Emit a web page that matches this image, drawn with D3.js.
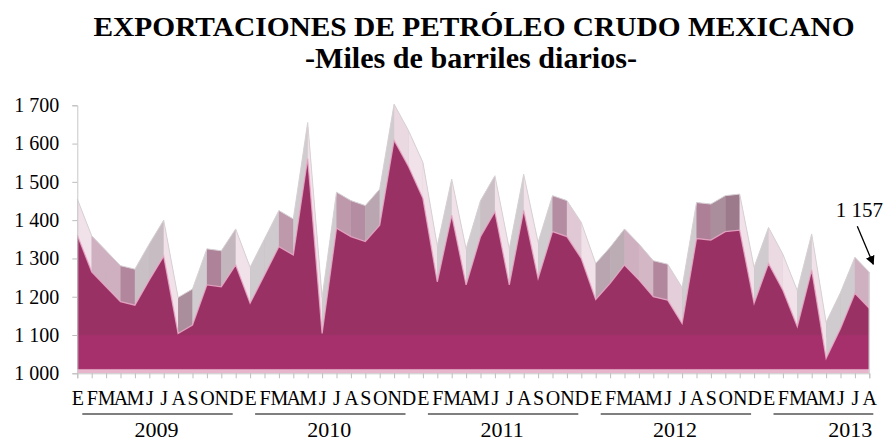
<!DOCTYPE html>
<html>
<head>
<meta charset="utf-8">
<script src="https://cdn.jsdelivr.net/npm/d3@7"></script>
<style>
  body { margin: 0; background: #fff; }
  text { font-family: "Liberation Serif", "Times New Roman", serif; fill: #000; }
</style>
</head>
<body>
<div id="chart"></div>
<script>
'use strict';

// months of each year (E = enero)
const monthLabels = ['E', 'F', 'M', 'A', 'M', 'J', 'J', 'A', 'S', 'O', 'N', 'D'];
const years       = ['2009', '2010', '2011', '2012', '2013'];
const monthsInYear = [12, 12, 12, 12, 8];

// miles de barriles diarios, ene 2009 - ago 2013
const exports2009 = [1361, 1265, 1226, 1187, 1178, 1244, 1306, 1104, 1126, 1231, 1226, 1283];
const exports2010 = [1183, 1257, 1331, 1309, 1561, 1104, 1379, 1357, 1344, 1387, 1609, 1540];
const exports2011 = [1457, 1239, 1413, 1231, 1357, 1422, 1231, 1426, 1248, 1370, 1357, 1300];
const exports2012 = [1193, 1235, 1283, 1244, 1200, 1191, 1130, 1352, 1348, 1370, 1374, 1183];
const exports2013 = [1287, 1217, 1122, 1270, 1039, 1117, 1209, 1170];

const yTicks = [1000, 1100, 1200, 1300, 1400, 1500, 1600, 1700];
const lastLabel = 1157;

const values = [].concat(exports2009, exports2010, exports2011, exports2012, exports2013);

const W = 888, H = 443;
const depth = 36;     // px, 3d back offset
const serif = '"Liberation Serif", "Times New Roman", Tinos, serif';

const svg = d3.select('#chart').append('svg')
    .attr('width', W)
    .attr('height', H);

const xScale = d3.scaleLinear().domain([0, values.length - 1]).range([77.3, 869.3]);
const yScale = d3.scaleLinear().domain([1000, 1700]).range([373.3, 105.3]);

const loc = d3.formatLocale({ decimal: '.', thousands: ' ', grouping: [3], currency: ['', ''] });
const fmt = loc.format(',');

// title
svg.append('text')
    .attr('x', 474).attr('y', 36)
    .attr('text-anchor', 'middle')
    .attr('textLength', 761).attr('lengthAdjust', 'spacingAndGlyphs')
    .style('font-family', serif)
    .style('font-size', '28px').style('font-weight', 'bold')
    .text('EXPORTACIONES DE PETRÓLEO CRUDO MEXICANO');

svg.append('text')
    .attr('x', 471).attr('y', 68)
    .attr('text-anchor', 'middle')
    .attr('textLength', 332).attr('lengthAdjust', 'spacingAndGlyphs')
    .style('font-family', serif)
    .style('font-size', '29px').style('font-weight', 'bold')
    .text('-Miles de barriles diarios-');

// gradient for front face
let defs = svg.append('defs');
let grad = defs.append('linearGradient')
    .attr('id', 'front')
    .attr('gradientUnits', 'userSpaceOnUse')
    .attr('x1', 0).attr('x2', 0)
    .attr('y1', yScale(1700)).attr('y2', yScale(1000));
[[0, '#9a3164'], [0.855, '#9a3164'], [0.86, '#a6306c'], [0.982, '#a6306c'], [0.987, '#e8b6cc'], [1, '#e8b6cc']]
    .forEach(s => grad.append('stop').attr('offset', s[0]).attr('stop-color', s[1]));

let cht = svg.append('g');

// back surface
let backArea = d3.area()
    .x((d, i) => xScale(i))
    .y0(yScale(1000) - depth)
    .y1((d, i) => yScale(d) - depth);

cht.append('path')
    .datum(values)
    .attr('d', backArea)
    .style('fill', '#c9bcc3');

// top faces between front edge and back edge
let asc  = d3.interpolateRgb('#9a7587', '#d0cbce');
let desc = d3.interpolateRgb('#a97b93', '#f1e1e9');

cht.selectAll('path.face')
    .data(d3.range(values.length - 1))
    .enter()
    .append('path')
    .attr('class', 'face')
    .attr('d', i =>
    {
        let x0 = xScale(i), x1 = xScale(i + 1),
            y0 = yScale(values[i]), y1 = yScale(values[i + 1]);
        return 'M' + x0 + ',' + y0 + 'L' + x1 + ',' + y1 +
               'L' + x1 + ',' + (y1 - depth) + 'L' + x0 + ',' + (y0 - depth) + 'Z';
    })
    .style('fill', i =>
    {
        let s = (yScale(values[i + 1]) - yScale(values[i])) / (xScale(1) - xScale(0));
        let t = Math.min(1, Math.abs(s) / 2);
        return s < 0 ? asc(t) : desc(t);
    })
    .style('stroke', 'none');

// back edge
cht.append('path')
    .datum(values)
    .attr('d', d3.line().x((d, i) => xScale(i)).y(d => yScale(d) - depth))
    .style('fill', 'none')
    .style('stroke', '#d8d2d5')
    .style('stroke-width', 1);

// front face
let frontArea = d3.area()
    .x((d, i) => xScale(i))
    .y0(yScale(1000))
    .y1(d => yScale(d));

cht.append('path')
    .datum(values)
    .attr('d', frontArea)
    .style('fill', 'url(#front)');

cht.append('path')
    .datum(values)
    .attr('d', d3.line().x((d, i) => xScale(i)).y(d => yScale(d)))
    .style('fill', 'none')
    .style('stroke', '#eaa9c7')
    .style('stroke-width', 1.3)
    .style('opacity', 0.85);

// right edge of the slab
cht.append('line')
    .attr('x1', xScale(values.length - 1)).attr('x2', xScale(values.length - 1))
    .attr('y1', yScale(values[values.length - 1]) - depth).attr('y2', yScale(1000))
    .style('stroke', '#d9d4d7').style('stroke-width', 1.5);

// y axis
let yAxis = svg.append('g')
    .attr('transform', 'translate(' + xScale(0) + ',0)')
    .call(d3.axisLeft(yScale).tickValues(yTicks).tickSize(5).tickPadding(13).tickFormat(fmt));
yAxis.attr('font-family', null);
yAxis.select('.domain').style('stroke', '#c8c8c8');
yAxis.selectAll('.tick line').style('stroke', '#bdbdbd');
yAxis.selectAll('text')
    .style('font-size', '20px')
    .style('font-family', serif);

// x axis
let xAxis = svg.append('g')
    .attr('transform', 'translate(0,' + yScale(1000) + ')')
    .call(d3.axisBottom(xScale)
        .tickValues(d3.range(values.length))
        .tickSize(5)
        .tickPadding(13)
        .tickFormat(i => monthLabels[i % 12]));
xAxis.attr('font-family', null);
xAxis.select('.domain').style('stroke', '#c8c8c8');
xAxis.selectAll('.tick line').style('stroke', '#bdbdbd');
xAxis.selectAll('text')
    .style('font-size', '20px')
    .style('font-family', serif);

// year groups
let start = 0;
years.forEach((yr, k) =>
{
    let first = start, last = start + monthsInYear[k] - 1;
    let full = monthsInYear[k] === 12;
    let lx0 = xScale(first) + 5,
        lx1 = full ? xScale(last) - 3 : xScale(last) + 4;

    svg.append('line')
        .attr('x1', lx0).attr('x2', lx1)
        .attr('y1', 414).attr('y2', 414)
        .style('stroke', '#000').style('stroke-width', 1.2);

    svg.append('text')
        .attr('x', full ? (xScale(first) + xScale(last)) / 2 : xScale(last) + 3)
        .attr('y', 437)
        .attr('text-anchor', full ? 'middle' : 'end')
        .style('font-family', serif)
        .style('font-size', '22px')
        .text(yr);

    start += monthsInYear[k];
});

// annotation on last value
defs.append('marker')
    .attr('id', 'arrow')
    .attr('viewBox', '0 0 10 10')
    .attr('refX', 9).attr('refY', 5)
    .attr('markerWidth', 7).attr('markerHeight', 7)
    .attr('orient', 'auto')
    .append('path')
    .attr('d', 'M0,0L10,5L0,10Z')
    .style('fill', '#000');

let lx = xScale(values.length - 1),
    ly = yScale(values[values.length - 1]);

svg.append('line')
    .attr('x1', lx - 12).attr('y1', ly - 82)
    .attr('x2', lx + 4).attr('y2', ly - 44)
    .style('stroke', '#000').style('stroke-width', 1.3)
    .attr('marker-end', 'url(#arrow)');

svg.append('text')
    .attr('x', lx - 10).attr('y', ly - 91)
    .attr('text-anchor', 'middle')
    .style('font-family', serif)
    .style('font-size', '21px')
    .text(fmt(lastLabel));
</script>
</body>
</html>
